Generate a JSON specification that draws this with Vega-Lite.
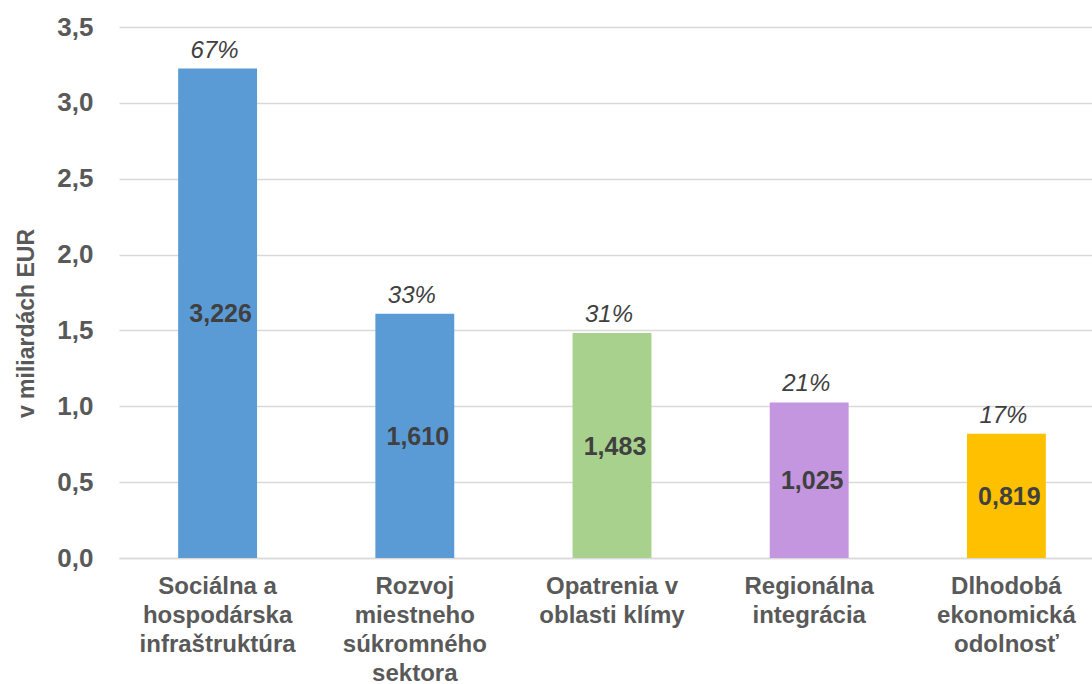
{
  "$schema": "https://vega.github.io/schema/vega-lite/v6.json",
  "width": 986,
  "height": 531,
  "autosize": "none",
  "padding": {"left": 119, "top": 27, "right": 0, "bottom": 126},
  "background": "white",
  "config": {
    "view": {"stroke": null},
    "font": "Liberation Sans",
    "locale": {"number": {"decimal": ",", "thousands": " ", "grouping": [3], "currency": ["", " €"]}}
  },
  "data": {
    "values": [
      {"category": "Sociálna a\nhospodárska\ninfraštruktúra", "value": 3.226, "share": 0.67},
      {"category": "Rozvoj\nmiestneho\nsúkromného\nsektora", "value": 1.610, "share": 0.33},
      {"category": "Opatrenia v\noblasti klímy", "value": 1.483, "share": 0.31},
      {"category": "Regionálna\nintegrácia", "value": 1.025, "share": 0.21},
      {"category": "Dlhodobá\nekonomická\nodolnosť", "value": 0.819, "share": 0.17}
    ]
  },
  "encoding": {
    "x": {
      "field": "category",
      "type": "nominal",
      "sort": null,
      "scale": {"paddingInner": 0.6, "paddingOuter": 0.3},
      "axis": {
        "title": null,
        "labelAngle": 0,
        "labelExpr": "split(datum.label, '\\n')",
        "labelFont": "Liberation Sans",
        "labelFontSize": 24,
        "labelFontWeight": "bold",
        "labelColor": "#595959",
        "labelLineHeight": 29,
        "labelBaseline": "top",
        "labelPadding": 16,
        "ticks": false,
        "tickSize": 0,
        "domainColor": "#d9d9d9",
        "domainWidth": 1.5,
        "labelLimit": 300
      }
    }
  },
  "layer": [
    {
      "mark": {"type": "bar"},
      "encoding": {
        "y": {
          "field": "value",
          "type": "quantitative",
          "scale": {"domain": [0, 3.5], "nice": false},
          "axis": {
            "values": [0, 0.5, 1, 1.5, 2, 2.5, 3, 3.5],
            "format": ".1f",
            "title": "v miliardách EUR",
            "titleFont": "Liberation Sans",
            "titleFontSize": 23,
            "titleFontWeight": "bold",
            "titleColor": "#595959",
            "titleX": -93,
            "titleY": 296,
            "titleBaseline": "middle",
            "titleAngle": -90,
            "labelFont": "Liberation Sans",
            "labelFontSize": 26,
            "labelFontWeight": "bold",
            "labelColor": "#595959",
            "labelPadding": 26,
            "ticks": false,
            "tickSize": 0,
            "domain": false,
            "grid": true,
            "gridColor": "#d9d9d9",
            "gridWidth": 1.5
          }
        },
        "color": {
          "field": "category",
          "type": "nominal",
          "sort": null,
          "scale": {
            "domain": ["Sociálna a\nhospodárska\ninfraštruktúra", "Rozvoj\nmiestneho\nsúkromného\nsektora", "Opatrenia v\noblasti klímy", "Regionálna\nintegrácia", "Dlhodobá\nekonomická\nodolnosť"],
            "range": ["#5B9BD5", "#5B9BD5", "#A9D18E", "#C396DF", "#FFC000"]
          },
          "legend": null
        }
      }
    },
    {
      "mark": {"type": "text", "font": "Liberation Sans", "fontSize": 24, "fontStyle": "italic", "color": "#404040", "baseline": "alphabetic", "dy": -11, "dx": -3},
      "encoding": {
        "y": {"field": "value", "type": "quantitative", "scale": {"domain": [0, 3.5], "nice": false}, "axis": null},
        "text": {"field": "share", "type": "quantitative", "format": ".0%"}
      }
    },
    {
      "mark": {"type": "text", "font": "Liberation Sans", "fontSize": 25, "fontWeight": "bold", "color": "#404040", "baseline": "middle", "dy": 1, "dx": 3},
      "encoding": {
        "y": {"field": "value", "type": "quantitative", "scale": {"domain": [0, 7], "nice": false}, "axis": null},
        "text": {"field": "value", "type": "quantitative", "format": ".3f"}
      }
    }
  ],
  "resolve": {"scale": {"y": "independent"}}
}
